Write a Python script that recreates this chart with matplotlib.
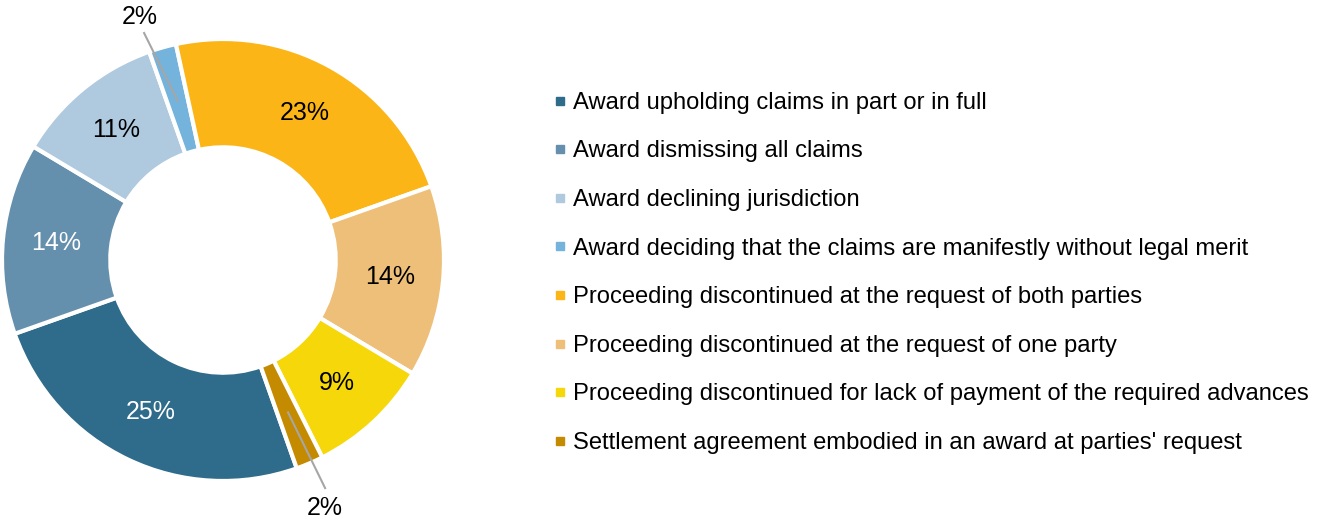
import numpy as np
import matplotlib
matplotlib.use("Agg")
import matplotlib.pyplot as plt
from matplotlib.lines import Line2D

plt.rcParams['font.family'] = ['Liberation Sans', 'DejaVu Sans']

labels = ["Award upholding claims in part or in full",
          "Award dismissing all claims",
          "Award declining jurisdiction",
          "Award deciding that the claims are manifestly without legal merit",
          "Proceeding discontinued at the request of both parties",
          "Proceeding discontinued at the request of one party",
          "Proceeding discontinued for lack of payment of the required advances",
          "Settlement agreement embodied in an award at parties' request"]
values = [25, 14, 11, 2, 23, 14, 9, 2]
colors = ["#2F6B8A", "#6590AD", "#AFC9DF", "#73B3DC",
          "#FBB517", "#EDBF78", "#F5D70A", "#C48A00"]
txt_colors = ["white", "white", "black", None, "black", "black", "black", None]

W, H = 1317, 519
fig = plt.figure(figsize=(W / 100, H / 100), dpi=100)
FS = 17.1
PFS = 18

# pie centre / radius in pixels
cx, cy, R = 223, 260, 221
ax = fig.add_axes([(cx - R) / W, (H - cy - R) / H, 2 * R / W, 2 * R / H])
wedges, _ = ax.pie(values, colors=colors, startangle=289.5, counterclock=False,
                   radius=1, wedgeprops=dict(width=0.49, edgecolor='white', linewidth=3))
for w in wedges:
    w.set_clip_on(False)
ax.set_xlim(-1, 1)
ax.set_ylim(-1, 1)
ax.axis('off')

for w, v, tc in zip(wedges, values, txt_colors):
    mid = np.deg2rad((w.theta1 + w.theta2) / 2)
    if tc is not None:
        ax.text(0.76 * np.cos(mid), 0.76 * np.sin(mid), "%d%%" % v,
                ha='center', va='center', fontsize=PFS, color=tc)

# small slices get outside labels with leader lines
def leader(w, v, txt_xy, start_xy):
    mid = np.deg2rad((w.theta1 + w.theta2) / 2)
    end = (0.75 * np.cos(mid), 0.75 * np.sin(mid))
    ax.plot([start_xy[0], end[0]], [start_xy[1], end[1]], color='#A6A6A6',
            lw=1.5, clip_on=False, zorder=5)
    ax.text(txt_xy[0], txt_xy[1], "%d%%" % v, ha='center', va='center',
            fontsize=PFS, color='black')

leader(wedges[3], values[3], (-0.376, 1.10), (-0.357, 1.027))
leader(wedges[7], values[7], (0.462, -1.12), (0.462, -1.032))

handles = [Line2D([], [], marker='s', linestyle='none', markersize=6,
                  markerfacecolor=c, markeredgecolor=c) for c in colors]
fig.legend(handles, labels, loc='upper left', bbox_to_anchor=(543 / W, 1 - 80 / H),
           frameon=False, fontsize=FS, handlelength=0.45, handletextpad=0.3,
           labelspacing=1.12, borderpad=0)

fig.savefig("out.png", dpi=100)
